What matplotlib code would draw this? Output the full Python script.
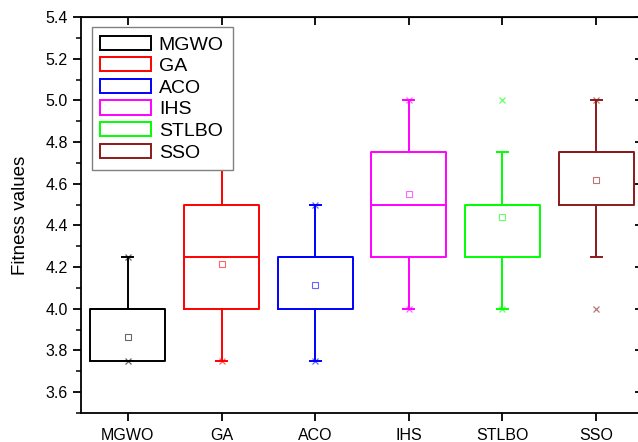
import matplotlib
matplotlib.use("Agg")
import matplotlib.pyplot as plt
from matplotlib.patches import Patch
from matplotlib.ticker import MultipleLocator, FixedLocator

plt.rcParams['font.family'] = ['Liberation Sans', 'DejaVu Sans']

# box statistics
algorithms = ['MGWO', 'GA', 'ACO', 'IHS', 'STLBO', 'SSO']
colors = ['#000000', '#ff0000', '#0000ff', '#ff00ff', '#00ff00', '#8b1a1a']
q1 = [3.75, 4.00, 4.00, 4.25, 4.25, 4.50]
median = [4.00, 4.25, 4.25, 4.50, 4.50, 4.75]
q3 = [4.00, 4.50, 4.25, 4.75, 4.50, 4.75]
whisker_low = [3.75, 3.75, 3.75, 4.00, 4.00, 4.25]
whisker_high = [4.25, 4.75, 4.50, 5.00, 4.75, 5.00]
means = [3.866, 4.215, 4.115, 4.55, 4.44, 4.62]
x_max = [4.25, 4.75, 4.50, 5.00, 5.00, 5.00]
x_min = [3.75, 3.75, 3.75, 4.00, 4.00, 4.00]
y_ticks = [3.6, 3.8, 4.0, 4.2, 4.4, 4.6, 4.8, 5.0, 5.2, 5.4]

fig = plt.figure(figsize=(6.38, 4.42), dpi=100)
ax = fig.add_axes([81 / 638, 29 / 442, 562 / 638, 396 / 442])

positions = list(range(1, len(algorithms) + 1))
for i, c in enumerate(colors):
    stats = [{
        'q1': q1[i], 'med': median[i], 'q3': q3[i],
        'whislo': whisker_low[i], 'whishi': whisker_high[i],
        'fliers': [], 'label': algorithms[i],
    }]
    lw = 1.4
    ax.bxp(stats, positions=[positions[i]], widths=0.8, capwidths=0.12,
           showfliers=False,
           boxprops=dict(color=c, linewidth=lw),
           medianprops=dict(color=c, linewidth=lw),
           whiskerprops=dict(color=c, linewidth=lw),
           capprops=dict(color=c, linewidth=lw),
           manage_ticks=False)
    ax.plot(positions[i], means[i], marker='s', ms=4.5, mfc='none',
            mec=c, mew=0.8, alpha=0.6, ls='none')
    ax.plot([positions[i]] * 2, [x_max[i], x_min[i]], marker='x', ms=5,
            color=c, mew=0.9, alpha=0.6, ls='none')

ax.set_xlim(0.5, 6.5)
ax.set_ylim(3.5, 5.4)
ax.set_xticks(positions)
ax.set_xticklabels(algorithms, fontsize=11.5)
ax.yaxis.set_major_locator(FixedLocator(y_ticks))
ax.yaxis.set_minor_locator(MultipleLocator(0.1))
ax.set_yticklabels([f'{v:.1f}' for v in y_ticks], fontsize=11.5)
ax.set_ylabel('Fitness values', fontsize=13.5, labelpad=12)

for s in ax.spines.values():
    s.set_linewidth(1.3)
ax.tick_params(axis='both', which='major', direction='out', length=6, width=1.3)
ax.tick_params(axis='y', which='minor', direction='out', length=3.5, width=1.1)
ax.tick_params(axis='x', which='major', pad=5)

# mirrored ticks point inward on the top and right
sec_x = ax.secondary_xaxis('top')
sec_x.set_xticks(positions)
sec_x.set_xticklabels([])
sec_x.tick_params(direction='in', length=6, width=1.3)
sec_y = ax.secondary_yaxis('right')
sec_y.yaxis.set_major_locator(FixedLocator(y_ticks))
sec_y.yaxis.set_minor_locator(MultipleLocator(0.1))
sec_y.set_yticklabels([])
sec_y.tick_params(which='major', direction='in', length=6, width=1.3)
sec_y.tick_params(which='minor', direction='in', length=3.5, width=1.1)

handles = [Patch(facecolor='none', edgecolor=c, linewidth=1.4) for c in colors]
leg = ax.legend(handles, algorithms, loc='upper left', bbox_to_anchor=(0.019, 0.975),
                fontsize=14, frameon=True, fancybox=False, framealpha=1.0,
                handlelength=2.6, handleheight=0.75, labelspacing=0.19,
                handletextpad=0.4, borderpad=0.45, borderaxespad=0.0)
leg.get_frame().set_edgecolor('#808080')
leg.get_frame().set_linewidth(1.0)
leg.set_zorder(5)

fig.savefig('out.png', dpi=100)
